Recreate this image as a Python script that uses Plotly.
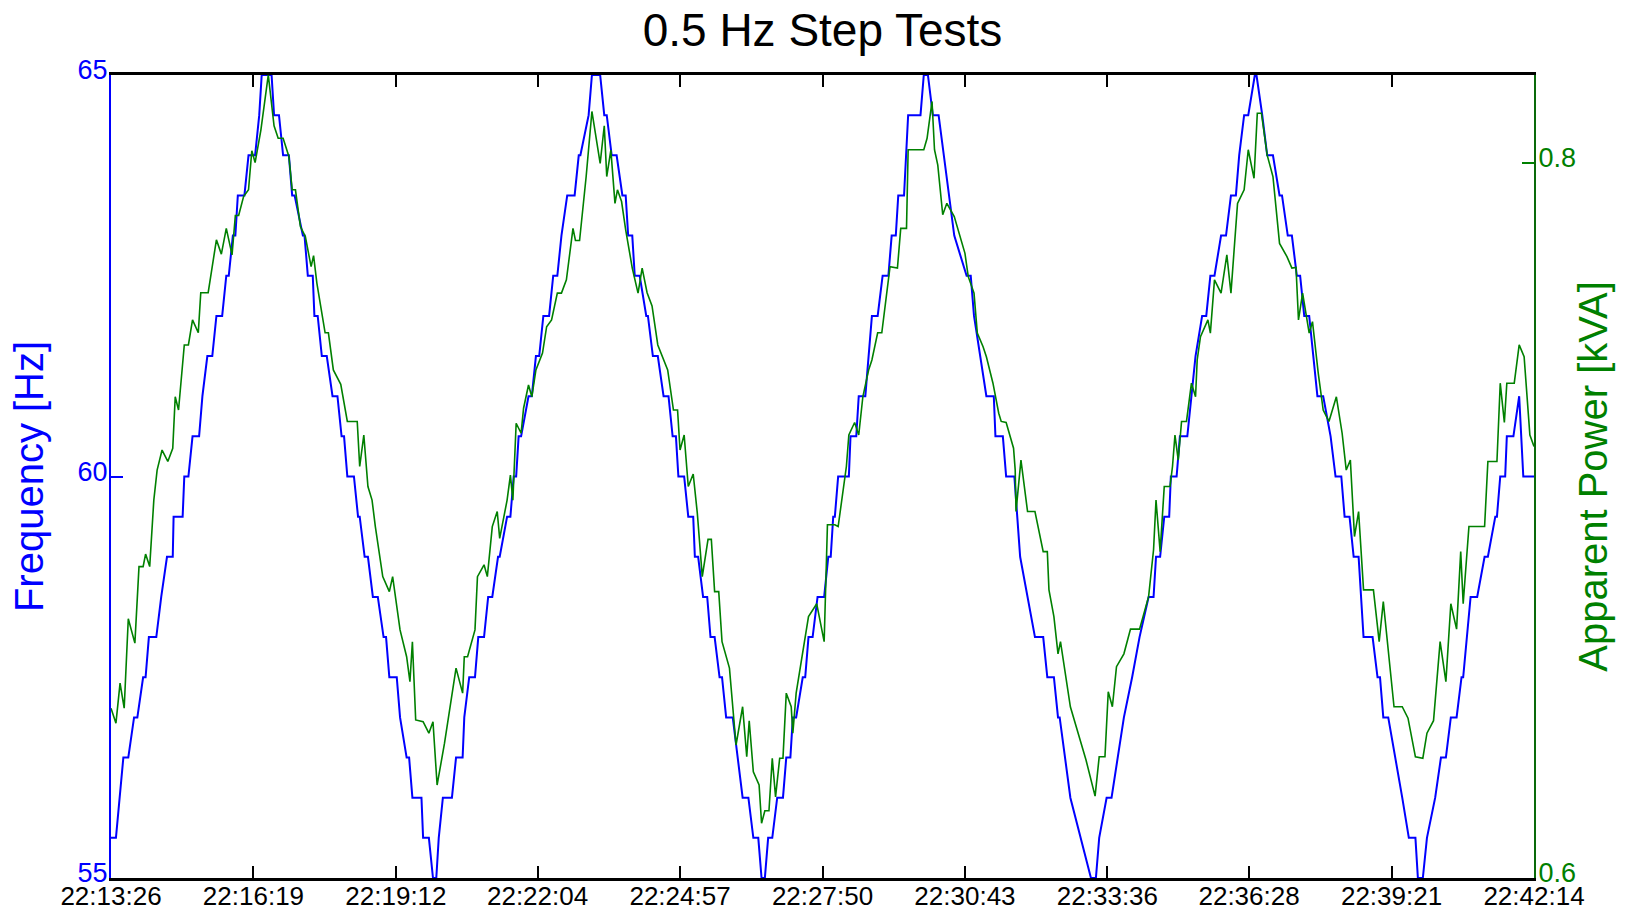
import pandas as pd
import plotly.graph_objects as go

# ---------------- data ----------------
DAY = "2014-06-01 "
start_time = "22:13:26"

tick_labels = ["22:13:26", "22:16:19", "22:19:12", "22:22:04", "22:24:57", "22:27:50",
               "22:30:43", "22:33:36", "22:36:28", "22:39:21", "22:42:14"]

# Frequency [Hz] — seconds after start_time, value
freq_seconds = [
    0, 6, 15, 21, 28, 32, 39, 42, 46, 55,
    61, 68, 75, 76, 87, 89, 94, 99, 107, 111,
    117, 123, 128, 135, 140, 143, 148, 151, 154, 162,
    167, 175, 180, 183, 195, 198, 204, 209, 216, 220,
    223, 233, 235, 239, 245, 247, 251, 256, 262, 269,
    275, 280, 283, 287, 295, 300, 302, 308, 312, 318,
    324, 331, 334, 338, 347, 351, 359, 362, 366, 377,
    379, 386, 391, 395, 398, 403, 414, 419, 427, 429,
    435, 442, 446, 453, 458, 463, 470, 472, 481, 485,
    489, 492, 495, 498, 507, 511, 516, 520, 525, 532,
    537, 542, 547, 554, 563, 568, 570, 580, 584, 594,
    599, 602, 608, 614, 621, 625, 628, 633, 636, 642,
    650, 652, 658, 664, 671, 677, 682, 686, 689, 696,
    701, 707, 709, 713, 719, 724, 728, 733, 739, 742,
    747, 755, 767, 774, 780, 786, 790, 794, 798, 803,
    809, 816, 820, 825, 828, 832, 840, 843, 847, 852,
    858, 866, 871, 874, 877, 879, 883, 896, 898, 905,
    908, 916, 924, 931, 937, 944, 948, 953, 956, 963,
    968, 983, 987, 992, 998, 1005, 1024, 1039, 1044, 1048,
    1063, 1072, 1074, 1083, 1087, 1097, 1104, 1122, 1132, 1137,
    1145, 1150, 1152, 1165, 1190, 1196, 1200, 1209, 1215, 1230,
    1240, 1249, 1260, 1266, 1269, 1274, 1279, 1285, 1287, 1294,
    1298, 1307, 1317, 1325, 1330, 1335, 1340, 1348, 1354, 1360,
    1366, 1370, 1376, 1381, 1389, 1391, 1398, 1404, 1411, 1419,
    1422, 1429, 1434, 1440, 1444, 1449, 1455, 1465, 1472, 1481,
    1487, 1494, 1498, 1504, 1509, 1515, 1521, 1532, 1538, 1541,
    1545, 1551, 1568, 1576, 1584, 1587, 1593, 1598, 1608, 1615,
    1621, 1627, 1634, 1640, 1642, 1651, 1659, 1668, 1672, 1681,
    1683, 1687, 1693, 1695, 1703, 1710, 1715, 1728,
]
freq_hz = [
    55.5, 55.5, 56.5, 56.5, 57, 57, 57.5, 57.5, 58, 58,
    58.5, 59, 59, 59.5, 59.5, 60, 60, 60.5, 60.5, 61,
    61.5, 61.5, 62, 62, 62.5, 62.5, 63, 63, 63.5, 63.5,
    64, 64, 64.5, 65, 65, 64.5, 64.5, 64, 64, 63.5,
    63.5, 63, 63, 62.5, 62.5, 62, 62, 61.5, 61.5, 61,
    61, 60.5, 60.5, 60, 60, 59.5, 59.5, 59, 59, 58.5,
    58.5, 58, 58, 57.5, 57.5, 57, 56.5, 56.5, 56, 56,
    55.5, 55.5, 55, 55, 55.5, 56, 56, 56.5, 56.5, 57,
    57.5, 57.5, 58, 58, 58.5, 58.5, 59, 59, 59.5, 59.5,
    60, 60, 60.5, 60.5, 61, 61, 61.5, 61.5, 62, 62,
    62.5, 62.5, 63, 63.5, 63.5, 64, 64, 64.5, 65, 65,
    64.5, 64.5, 64, 64, 63.5, 63.5, 63, 63, 62.5, 62.5,
    62, 62, 61.5, 61.5, 61, 61, 60.5, 60.5, 60, 60,
    59.5, 59.5, 59, 59, 58.5, 58.5, 58, 58, 57.5, 57.5,
    57, 57, 56, 56, 55.5, 55.5, 55, 55, 55.5, 55.5,
    56, 56, 56.5, 56.5, 57, 57, 57.5, 57.5, 58, 58,
    58.5, 58.5, 59, 59, 59.5, 59.5, 60, 60, 60.5, 60.5,
    61, 61, 62, 62, 62.5, 62.5, 63, 63, 63.5, 63.5,
    64.5, 64.5, 65, 65, 64.5, 64.5, 63, 62.5, 62.5, 62,
    61, 61, 60.5, 60.5, 60, 60, 59, 58, 58, 57.5,
    57.5, 57, 57, 56, 55, 55, 55.5, 56, 56, 57,
    57.5, 58, 58.5, 58.5, 59, 59, 59.5, 59.5, 60, 60,
    60.5, 60.5, 61.5, 62, 62, 62.5, 62.5, 63, 63, 63.5,
    63.5, 64, 64.5, 64.5, 65, 65, 64.5, 64, 64, 63.5,
    63.5, 63, 63, 62.5, 62.5, 62, 62, 61, 61, 60.5,
    60, 60, 59.5, 59.5, 59, 59, 58, 58, 57.5, 57.5,
    57, 57, 56, 55.5, 55.5, 55, 55, 55.5, 56, 56.5,
    56.5, 57, 57, 57.5, 57.5, 58.5, 58.5, 59, 59, 59.5,
    59.5, 60, 60, 60.5, 60.5, 61, 60, 60,
]

# Apparent power [kVA] — seconds after start_time, value
power_seconds = [
    0, 6, 11, 16, 21, 29, 34, 39, 42, 47,
    52, 56, 62, 69, 75, 78, 82, 89, 94, 99,
    106, 109, 118, 128, 134, 140, 147, 151, 155, 161,
    167, 171, 175, 182, 191, 198, 203, 209, 216, 220,
    224, 230, 236, 243, 246, 250, 260, 264, 270, 279,
    287, 299, 302, 307, 312, 317, 321, 330, 338, 342,
    351, 359, 363, 366, 370, 379, 386, 391, 396, 405,
    419, 427, 429, 433, 442, 445, 453, 457, 463, 469,
    472, 481, 485, 488, 492, 498, 501, 507, 511, 516,
    524, 529, 535, 542, 547, 553, 561, 564, 569, 577,
    584, 594, 599, 602, 607, 612, 615, 620, 625, 633,
    640, 645, 651, 657, 664, 670, 676, 683, 688, 691,
    696, 701, 707, 712, 718, 725, 729, 733, 738, 742,
    751, 759, 767, 772, 775, 780, 787, 790, 794, 799,
    803, 807, 812, 816, 820, 826, 828, 832, 842, 847,
    857, 866, 870, 879, 883, 890, 893, 896, 903, 908,
    913, 920, 924, 931, 936, 946, 955, 959, 966, 968,
    987, 991, 997, 1000, 1004, 1010, 1015, 1024, 1037, 1041,
    1048, 1052, 1059, 1063, 1071, 1078, 1081, 1087, 1096, 1098,
    1099, 1105, 1113, 1122, 1132, 1137, 1139, 1145, 1150, 1153,
    1165, 1184, 1195, 1200, 1207, 1211, 1216, 1221, 1230, 1238,
    1249, 1260, 1266, 1269, 1274, 1279, 1286, 1289, 1292, 1296,
    1300, 1306, 1312, 1317, 1319, 1323, 1332, 1335, 1340, 1348,
    1355, 1360, 1368, 1376, 1381, 1388, 1392, 1397, 1404, 1411,
    1419, 1428, 1434, 1439, 1442, 1447, 1455, 1459, 1466, 1472,
    1479, 1488, 1495, 1500, 1505, 1510, 1515, 1521, 1533, 1540,
    1545, 1558, 1568, 1575, 1584, 1593, 1598, 1606, 1614, 1621,
    1627, 1634, 1639, 1642, 1649, 1668, 1672, 1683, 1687, 1692,
    1695, 1704, 1710, 1716, 1723, 1728,
]
power_kva = [
    0.6475, 0.6433, 0.6545, 0.6475, 0.6725, 0.6657, 0.6871, 0.6871, 0.6906, 0.6871,
    0.7057, 0.7141, 0.7197, 0.7165, 0.7202, 0.7346, 0.7309, 0.7491, 0.7491, 0.7561,
    0.7525, 0.7637, 0.7637, 0.7785, 0.7745, 0.7817, 0.7743, 0.7853, 0.7853, 0.7906,
    0.7925, 0.8034, 0.8001, 0.8092, 0.8246, 0.8104, 0.8069, 0.8069, 0.8018, 0.7925,
    0.7925, 0.7822, 0.7794, 0.7710, 0.7741, 0.7664, 0.7525, 0.7525, 0.7421, 0.7381,
    0.7277, 0.7277, 0.7151, 0.7239, 0.7095, 0.7057, 0.6983, 0.6843, 0.6801, 0.6843,
    0.6694, 0.6619, 0.6549, 0.6661, 0.6442, 0.6437, 0.6405, 0.6437, 0.6260, 0.6377,
    0.6587, 0.6517, 0.6619, 0.6619, 0.6694, 0.6843, 0.6876, 0.6843, 0.6983, 0.7025,
    0.6950, 0.7057, 0.7127, 0.7057, 0.7272, 0.7244, 0.7314, 0.7379, 0.7346, 0.7421,
    0.7468, 0.7542, 0.7561, 0.7636, 0.7636, 0.7673, 0.7817, 0.7783, 0.7783, 0.7962,
    0.8144, 0.7999, 0.8104, 0.7962, 0.8036, 0.7887, 0.7925, 0.7892, 0.7813, 0.7706,
    0.7636, 0.7706, 0.7637, 0.7600, 0.7491, 0.7458, 0.7421, 0.7309, 0.7309, 0.7197,
    0.7239, 0.7095, 0.7130, 0.7020, 0.6843, 0.6947, 0.6947, 0.6801, 0.6801, 0.6661,
    0.6587, 0.6372, 0.6479, 0.6339, 0.6440, 0.6297, 0.6260, 0.6153, 0.6188, 0.6188,
    0.6335, 0.6227, 0.6335, 0.6335, 0.6517, 0.6479, 0.6405, 0.6517, 0.6657, 0.6731,
    0.6767, 0.6661, 0.6988, 0.6988, 0.6983, 0.7095, 0.7151, 0.7239, 0.7274, 0.7239,
    0.7346, 0.7421, 0.7449, 0.7525, 0.7525, 0.7710, 0.7706, 0.7817, 0.7817, 0.8037,
    0.8037, 0.8069, 0.8172, 0.8037, 0.7994, 0.7855, 0.7887, 0.7850, 0.7747, 0.7682,
    0.7636, 0.7524, 0.7486, 0.7458, 0.7384, 0.7300, 0.7277, 0.7274, 0.7202, 0.7141,
    0.7025, 0.7169, 0.7025, 0.7025, 0.6913, 0.6913, 0.6806, 0.6731, 0.6627, 0.6661,
    0.6479, 0.6330, 0.6229, 0.6339, 0.6339, 0.6521, 0.6479, 0.6591, 0.6627, 0.6696,
    0.6696, 0.6787, 0.6918, 0.7057, 0.6913, 0.7095, 0.7095, 0.7151, 0.7239, 0.7169,
    0.7277, 0.7277, 0.7384, 0.7346, 0.7449, 0.7514, 0.7561, 0.7524, 0.7673, 0.7636,
    0.7743, 0.7636, 0.7887, 0.7925, 0.8037, 0.7957, 0.8139, 0.8139, 0.8022, 0.7962,
    0.7775, 0.7738, 0.7706, 0.7708, 0.7561, 0.7636, 0.7524, 0.7556, 0.7412, 0.7309,
    0.7277, 0.7346, 0.7244, 0.7141, 0.7169, 0.6955, 0.7025, 0.6806, 0.6806, 0.6661,
    0.6773, 0.6479, 0.6479, 0.6447, 0.6339, 0.6335, 0.6405, 0.6440, 0.6661, 0.6549,
    0.6767, 0.6696, 0.6913, 0.6767, 0.6983, 0.6983, 0.7165, 0.7165, 0.7384, 0.7274,
    0.7384, 0.7384, 0.7491, 0.7458, 0.7239, 0.7207,
]

freq_ticks = [55, 60, 65]
power_ticks = [0.6, 0.8]
freq_range = [55, 65]
power_range = [0.6, 0.8246]

# ---------------- build figure ----------------
BLUE = "#0000ff"
GREEN = "#008000"
FONT = "Liberation Sans, Arial, Helvetica, sans-serif"

t0 = pd.Timestamp(DAY + start_time)
freq_x = t0 + pd.to_timedelta(freq_seconds, unit="s")
power_x = t0 + pd.to_timedelta(power_seconds, unit="s")
tick_vals = [pd.Timestamp(DAY + s) for s in tick_labels]

fig = go.Figure()
fig.add_trace(go.Scatter(x=freq_x, y=freq_hz, mode="lines", name="Frequency",
                         line=dict(color=BLUE, width=2), yaxis="y"))
fig.add_trace(go.Scatter(x=power_x, y=power_kva, mode="lines", name="Apparent Power",
                         line=dict(color=GREEN, width=1.6), yaxis="y2"))

fig.update_layout(
    width=1629, height=910,
    margin=dict(l=111, r=95, t=75, b=32, pad=0),
    paper_bgcolor="white", plot_bgcolor="white",
    showlegend=False,
    font=dict(family=FONT, color="black"),
    title=dict(text="0.5 Hz Step Tests", x=0.5, xref="paper", xanchor="center",
               y=1 - 30 / 910, yref="container", yanchor="middle",
               font=dict(size=46, color="black", family=FONT)),
    xaxis=dict(
        type="date", range=[tick_vals[0], tick_vals[-1]],
        tickmode="array", tickvals=tick_vals, ticktext=tick_labels,
        ticks="inside", ticklen=12, tickwidth=1.5, tickcolor="black",
        showline=True, linecolor="black", linewidth=2.6, mirror="ticks",
        showgrid=False, zeroline=False, automargin=False,
        tickfont=dict(size=26, color="black", family=FONT),
        ticklabelstandoff=-7,
    ),
    yaxis=dict(
        range=freq_range, tickmode="array", tickvals=freq_ticks,
        ticks="inside", ticklen=12, tickwidth=1.5, tickcolor=BLUE,
        showline=True, linecolor=BLUE, linewidth=2,
        showgrid=False, zeroline=False, automargin=False,
        tickfont=dict(size=27, color=BLUE, family=FONT),
        ticklabelstandoff=-4, ticklabelshift=-5,
        title=dict(text="Frequency [Hz]", font=dict(size=40, color=BLUE, family=FONT),
                   standoff=22),
    ),
    yaxis2=dict(
        range=power_range, overlaying="y", side="right",
        tickmode="array", tickvals=power_ticks, ticktext=["0.6", "0.8"],
        ticks="inside", ticklen=12, tickwidth=1.5, tickcolor=GREEN,
        showline=True, linecolor="#0a6a0a", linewidth=2,
        showgrid=False, zeroline=False, automargin=False,
        tickfont=dict(size=27, color=GREEN, family=FONT),
        ticklabelstandoff=-3, ticklabelshift=-5,
        title=dict(text="Apparent Power [kVA]", font=dict(size=40, color=GREEN, family=FONT),
                   standoff=4),
    ),
)

fig.write_html("out.html")
